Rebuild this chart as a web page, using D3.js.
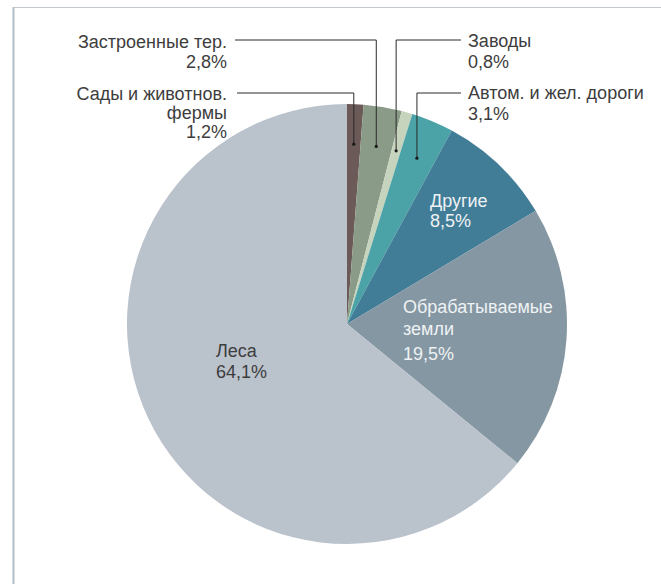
<!DOCTYPE html>
<html><head><meta charset="utf-8">
<script src="https://cdn.jsdelivr.net/npm/d3@7/dist/d3.min.js"></script>
<style>
html,body{margin:0;padding:0;background:#fff;}
svg{display:block;}
text{font-family:"Liberation Sans",Arial,sans-serif;}
</style></head>
<body>
<svg id="chart" width="661" height="584"></svg>
<script>
const categories = ["Сады и животнов. фермы","Застроенные тер.","Заводы","Автом. и жел. дороги","Другие","Обрабатываемые земли","Леса"];
const values = [1.2, 2.8, 0.8, 3.1, 8.5, 19.5, 64.1];
const valueLabels = ["1,2%","2,8%","0,8%","3,1%","8,5%","19,5%","64,1%"];
const colors = ["#6b5a58","#8a9c87","#c6d3bd","#4ba3a8","#417d97","#8597a3","#bac2cc"];

const svg = d3.select("#chart");
// frame
svg.append("line").attr("x1",13).attr("x2",661).attr("y1",7.5).attr("y2",7.5).attr("stroke","#c3c9cf").attr("stroke-width",1.2);
svg.append("line").attr("x1",13.5).attr("x2",13.5).attr("y1",7).attr("y2",584).attr("stroke","#b3bdc8").attr("stroke-width",2);

const cx = 347, cy = 324, R = 220;
const g = svg.append("g").attr("transform",`translate(${cx},${cy})`);
const pie = d3.pie().value(d=>d).sort(null);
const arcs = pie(values);
const arc = d3.arc().innerRadius(0).outerRadius(R);
g.selectAll("path").data(arcs).enter().append("path")
  .attr("d",arc).attr("fill",(d,i)=>colors[i]);

// leader lines for small slices
const leaders = [
  {i:0, ly:93, lx:237},
  {i:1, ly:40, lx:235},
  {i:2, ly:40, lx:461},
  {i:3, ly:93, lx:461}
];
leaders.forEach(L=>{
  const mid = (arcs[L.i].startAngle+arcs[L.i].endAngle)/2;
  const px = cx + 180*Math.sin(mid), py = cy - 180*Math.cos(mid);
  svg.append("path").attr("d",`M${L.lx},${L.ly}H${px}V${py}`)
    .attr("fill","none").attr("stroke","#2a2a2a").attr("stroke-width",1);
  svg.append("circle").attr("cx",px).attr("cy",py).attr("r",1.6).attr("fill","#1a1a1a");
});

const fs = 18;
function lines(x, ys, strs, anchor, fill){
  strs.forEach((s,k)=>{
    svg.append("text").attr("x",x).attr("y",ys[k]).attr("text-anchor",anchor)
      .attr("font-size",fs).attr("fill",fill).text(s);
  });
}
const dark = "#3d3d3d", light = "#eef2f4";
lines(227,[48,68],["Застроенные тер.",valueLabels[1]],"end",dark);
lines(227,[100,119,138],["Сады и животнов.","фермы",valueLabels[0]],"end",dark);
lines(468,[47,68],["Заводы",valueLabels[2]],"start",dark);
lines(468,[99,120],["Автом. и жел. дороги",valueLabels[3]],"start",dark);
lines(430,[207,227],["Другие",valueLabels[4]],"start",light);
lines(403,[313,335,360],["Обрабатываемые","земли",valueLabels[5]],"start",light);
lines(216,[357,378],["Леса",valueLabels[6]],"start",dark);
</script>
</body></html>
